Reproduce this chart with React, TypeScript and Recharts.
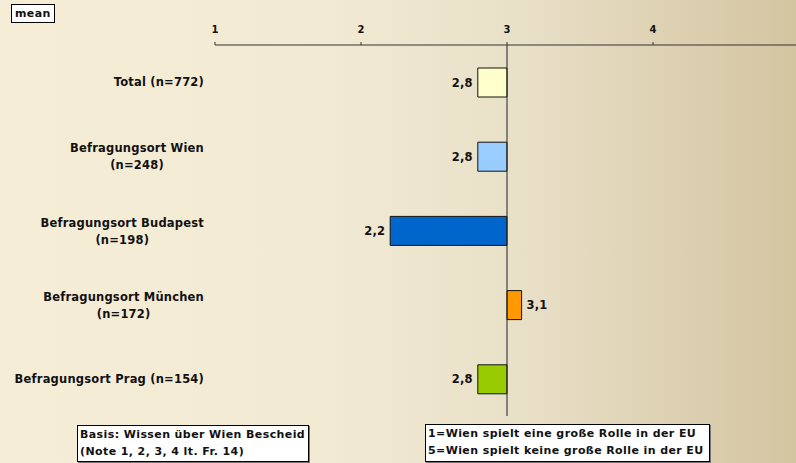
import React from 'react';
import { BarChart, Bar, XAxis, YAxis, Cell, LabelList, ReferenceLine } from 'recharts';

const categories = [
  'Total (n=772)',
  'Befragungsort Wien\n(n=248)',
  'Befragungsort Budapest\n(n=198)',
  'Befragungsort München\n(n=172)',
  'Befragungsort Prag (n=154)',
];
const means = [2.8, 2.8, 2.2, 3.1, 2.8];
const barColors = ['#ffffcc', '#99ccff', '#0066cc', '#ff9900', '#99cc00'];
const axisTicks = [1, 2, 3, 4];
const axisDomain = [1, 5];
const midpoint = 3;
const basisLines = ['Basis: Wissen über Wien Bescheid', '(Note 1, 2, 3, 4 lt. Fr. 14)'];
const scaleLines = ['1=Wien spielt eine große Rolle in der EU', '5=Wien spielt keine große Rolle in der EU'];

const data = categories.map((name, i) => ({
  name,
  mean: means[i],
  range: [Math.min(midpoint, means[i]), Math.max(midpoint, means[i])],
}));

const FONT = '"DejaVu Sans", Verdana, sans-serif';
const FS = 11.5;
const LS = 0.2;

let ctx: CanvasRenderingContext2D | null = null;
function measure(text: string): number {
  if (!ctx) {
    const c = document.createElement('canvas');
    ctx = c.getContext('2d');
  }
  if (!ctx) return text.length * 7;
  ctx.font = `bold ${FS}px ${FONT}`;
  return ctx.measureText(text).width + text.length * LS;
}

const CategoryTick = (props: any) => {
  const { y, payload } = props;
  const lines = String(payload.value).split('\n');
  const right = 204;
  const style = { fontFamily: FONT, fontWeight: 'bold' as const, fontSize: FS, letterSpacing: LS, fill: '#111' };
  if (lines.length === 1) {
    return (
      <text x={right} y={y} textAnchor="end" dominantBaseline="central" style={style}>
        {lines[0]}
      </text>
    );
  }
  const w = measure(lines[0]);
  const cx = right - w / 2;
  return (
    <g>
      <text x={cx} y={y - 8} textAnchor="middle" dominantBaseline="central" style={style}>
        {lines[0]}
      </text>
      <text x={cx} y={y + 9} textAnchor="middle" dominantBaseline="central" style={style}>
        {lines[1]}
      </text>
    </g>
  );
};

const ValueLabel = (props: any) => {
  const { x, y, width, height, value } = props;
  const v = Number(value);
  const left = v < midpoint;
  const tx = left ? x - 5 : x + width + 5;
  return (
    <text
      x={tx}
      y={y + height / 2}
      textAnchor={left ? 'end' : 'start'}
      dominantBaseline="central"
      style={{ fontFamily: FONT, fontWeight: 'bold', fontSize: FS, letterSpacing: LS, fill: '#111' }}
    >
      {v.toFixed(1).replace('.', ',')}
    </text>
  );
};

const boxStyle: React.CSSProperties = {
  position: 'absolute',
  background: '#fff',
  border: '1px solid #000',
  boxShadow: '1px 1px 0 #777',
  fontFamily: FONT,
  fontWeight: 'bold',
  fontSize: 11,
  letterSpacing: 0.4,
  color: '#111',
  lineHeight: '17px',
  boxSizing: 'border-box',
  paddingLeft: 2,
  whiteSpace: 'nowrap',
};

export default function App() {
  return (
    <div
      style={{
        position: 'absolute',
        left: 0,
        top: 0,
        width: 796,
        height: 463,
        overflow: 'hidden',
        background: 'linear-gradient(to right, #f6edd6 0%, #f3ead4 40%, #e9e0c8 65%, #d4c5a1 100%)',
      }}
    >
      <div style={{ ...boxStyle, left: 11, top: 4, width: 44, height: 19, lineHeight: '17px', paddingLeft: 3, boxShadow: 'none' }}>
        mean
      </div>
      <BarChart
        width={799}
        height={463}
        data={data}
        layout="vertical"
        margin={{ top: 15, right: 0, bottom: 47, left: 0 }}
      >
        <XAxis
          type="number"
          domain={axisDomain}
          ticks={axisTicks}
          orientation="top"
          height={30}
          tickSize={3}
          tickMargin={9}
          allowDataOverflow
          axisLine={{ stroke: '#333', strokeWidth: 1 }}
          tickLine={{ stroke: '#333', strokeWidth: 1 }}
          tick={{ fill: '#111', fontSize: 10, fontWeight: 'bold', fontFamily: FONT }}
        />
        <YAxis
          type="category"
          dataKey="name"
          width={215}
          axisLine={false}
          tickLine={false}
          interval={0}
          tick={<CategoryTick />}
        />
        <Bar dataKey="range" barSize={29} stroke="#111" strokeWidth={1} isAnimationActive={false}>
          {data.map((d, i) => (
            <Cell key={d.name} fill={barColors[i]} />
          ))}
          <LabelList dataKey="mean" content={<ValueLabel />} />
        </Bar>
        <ReferenceLine x={midpoint} stroke="#222" strokeWidth={1} />
      </BarChart>
      <div style={{ ...boxStyle, left: 77, top: 425, width: 232, height: 37 }}>
        {basisLines.map((l) => (
          <div key={l}>{l}</div>
        ))}
      </div>
      <div style={{ ...boxStyle, left: 425, top: 424, width: 285, height: 38 }}>
        {scaleLines.map((l) => (
          <div key={l}>{l}</div>
        ))}
      </div>
    </div>
  );
}
